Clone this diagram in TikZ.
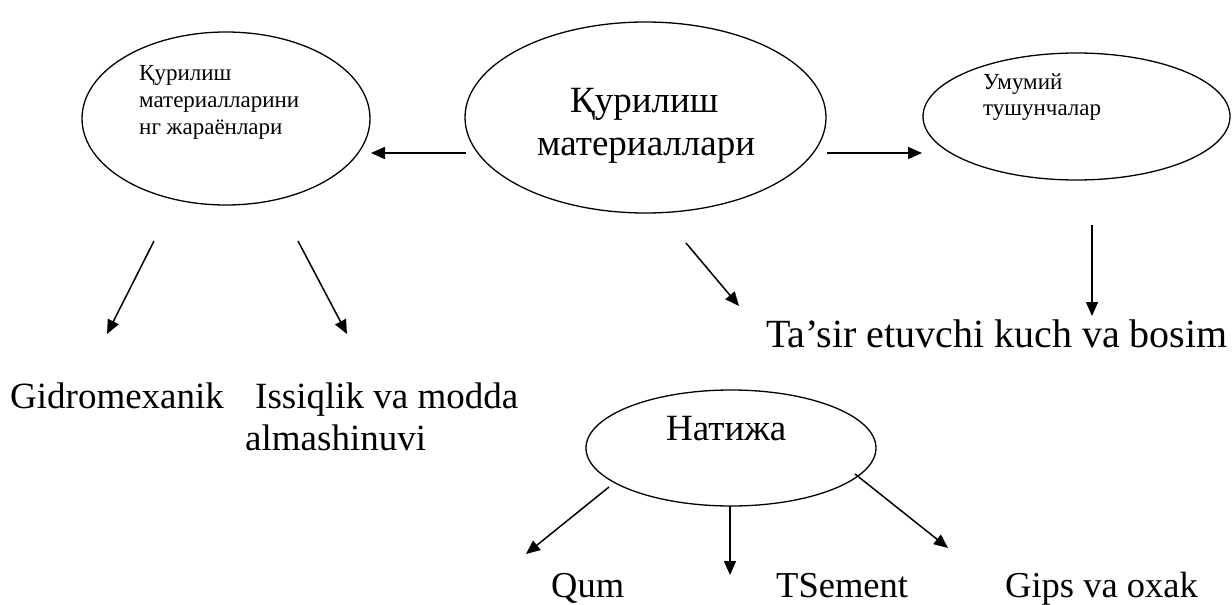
\documentclass[tikz,border=0pt]{standalone}
\usepackage{fontspec}
\setmainfont{Liberation Serif}
\usetikzlibrary{arrows.meta,shapes.geometric}
\begin{document}
\begin{tikzpicture}[x=1pt,y=-1pt,
  oval/.style={draw,ellipse,line width=1.3pt,inner sep=0pt},
  arr/.style={-{Triangle[length=14pt,width=12pt]},line width=1.5pt},
  txt/.style={anchor=base west,inner sep=0pt},
  big/.style={txt,font=\fontsize{37}{44}\selectfont},
  small/.style={txt,font=\fontsize{23}{28}\selectfont}]
\useasboundingbox (0,0) rectangle (1232,605);
% ellipses
\node[oval,minimum width=288pt,minimum height=173pt] (left) at (226,118.5) {};
\node[oval,minimum width=361pt,minimum height=191pt] (center) at (645.5,117.5) {};
\node[oval,minimum width=307pt,minimum height=127pt] (right) at (1076.5,116.5) {};
\node[oval,minimum width=290pt,minimum height=116pt] (res) at (731,448) {};
% ellipse texts
\node[small] (l1) at (139,80) {Қурилиш};
\node[small] (l2) at (139,107) {материалларини};
\node[small] (l3) at (139,134) {нг жараёнлари};
\node[big] (c1) at (570,112) {Қурилиш};
\node[big] (c2) at (537,155) {материаллари};
\node[small] (r1) at (983,89) {Умумий};
\node[small] (r2) at (983,115) {тушунчалар};
\node[big] (n1) at (666,440) {Натижа};
% free labels
\node[big] (gid) at (10,408) {Gidromexanik};
\node[big] (iss1) at (255,408) {Issiqlik va modda};
\node[big] (iss2) at (245,450) {almashinuvi};
\node[txt,font=\fontsize{40}{48}\selectfont] (tas) at (766,347) {Ta’sir etuvchi kuch va bosim};
\node[txt,font=\fontsize{36.5}{44}\selectfont] (qum) at (551,597) {Qum};
\node[txt,font=\fontsize{36.5}{44}\selectfont] (tse) at (776,597) {TSement};
\node[txt,font=\fontsize{36.5}{44}\selectfont] (gip) at (1005,597) {Gips va oxak};
% connector end points
\coordinate (a1s) at (466,153); \coordinate (a1e) at (371,153);
\coordinate (a2s) at (827,153); \coordinate (a2e) at (922,153);
\coordinate (a3s) at (154,241); \coordinate (a3e) at (107,334);
\coordinate (a4s) at (298,241); \coordinate (a4e) at (347,334);
\coordinate (a5s) at (686,243); \coordinate (a5e) at (739,306);
\coordinate (a6s) at (1092,225); \coordinate (a6e) at (1092,316);
\coordinate (a7s) at (609,487); \coordinate (a7e) at (526,554);
\coordinate (a8s) at (730,506); \coordinate (a8e) at (730,575);
\coordinate (a9s) at (855,474); \coordinate (a9e) at (948,548);
\foreach \i in {1,...,9} \draw[arr] (a\i s) -- (a\i e);
\end{tikzpicture}
\end{document}
